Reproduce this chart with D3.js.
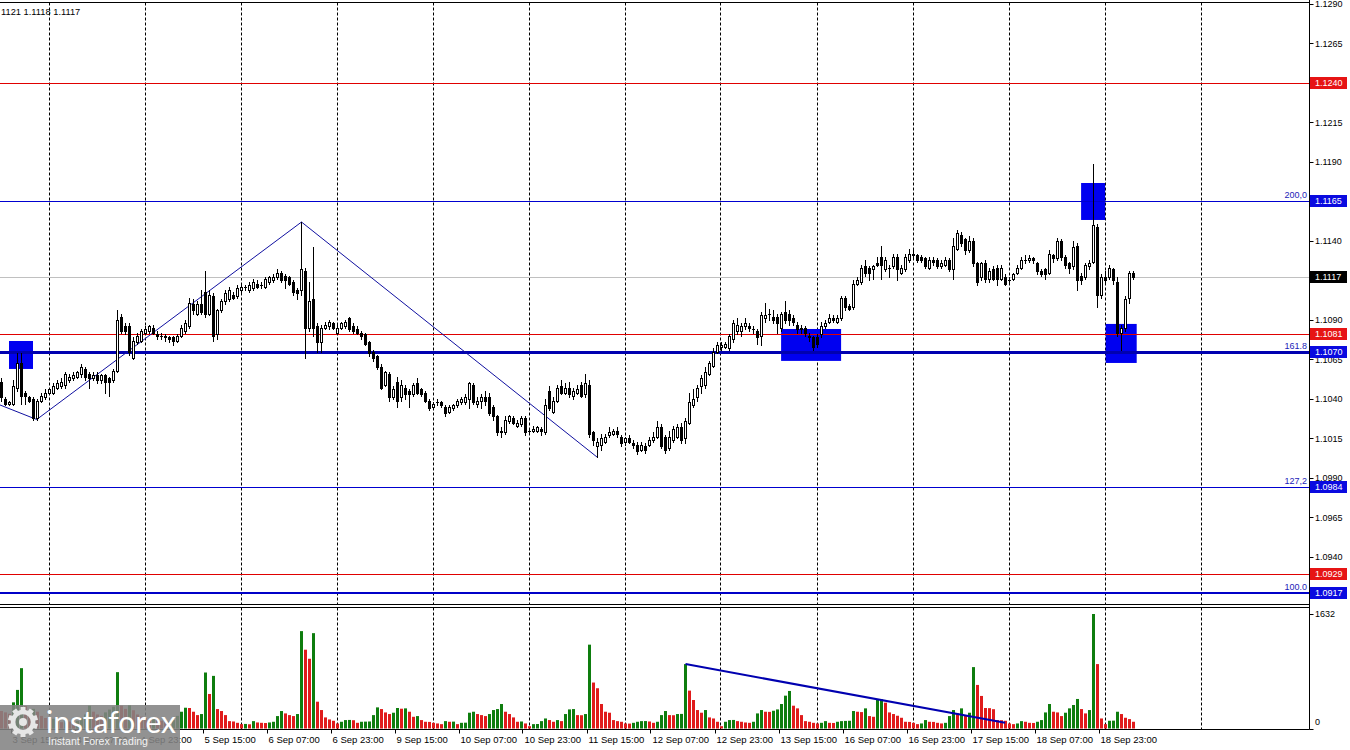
<!DOCTYPE html>
<html><head><meta charset="utf-8">
<script src="https://cdn.jsdelivr.net/npm/d3@7"></script>
<style>html,body{margin:0;padding:0;background:#fff;overflow:hidden}</style>
</head><body><svg id="c" width="1350" height="750"></svg>
<script>
// ---------- DATA ----------
const opens = [1.1051,1.1040,1.1037,1.1037,1.1047,1.1063,1.1044,1.1041,1.1040,1.1028,1.1039,1.1041,1.1044,1.1044,1.1047,1.1048,1.1049,1.1052,1.1053,1.1054,1.1056,1.1059,1.1056,1.1053,1.1055,1.1052,1.1055,1.1053,1.1052,1.1058,1.1092,1.1086,1.1086,1.1066,1.1076,1.1077,1.1082,1.1083,1.1085,1.1081,1.1080,1.1080,1.1079,1.1079,1.1077,1.1080,1.1083,1.1086,1.1100,1.1094,1.1100,1.1108,1.1094,1.1105,1.1081,1.1096,1.1102,1.1103,1.1106,1.1105,1.1109,1.1111,1.1109,1.1110,1.1113,1.1112,1.1111,1.1114,1.1115,1.1117,1.1120,1.1118,1.1117,1.1114,1.1109,1.1109,1.1121,1.1085,1.1103,1.1086,1.1076,1.1085,1.1086,1.1088,1.1082,1.1085,1.1086,1.1091,
1.1086,1.1084,1.1082,1.1081,1.1076,1.1070,1.1067,1.1060,1.1049,1.1056,1.1041,1.1051,1.1041,1.1047,1.1045,1.1043,1.1050,1.1046,1.1044,1.1039,1.1035,1.1038,1.1038,1.1035,1.1032,1.1034,1.1036,1.1038,1.1038,1.1040,1.1049,1.1037,1.1039,1.1041,1.1041,1.1035,1.1029,1.1019,1.1019,1.1026,1.1028,1.1023,1.1024,1.1028,1.1020,1.1020,1.1020,1.1021,1.1019,1.1045,1.1032,1.1039,1.1048,1.1044,1.1047,1.1042,1.1044,1.1049,1.1043,1.1049,1.1019,1.1010,1.1011,1.1013,1.1017,1.1018,1.1020,1.1016,1.1013,1.1015,
1.1012,1.1011,1.1008,1.1010,1.1011,1.1014,1.1016,1.1022,1.1016,1.1009,1.1014,1.1016,1.1022,1.1015,1.1025,1.1036,1.1041,1.1048,1.1049,1.1056,1.1061,1.1070,1.1073,1.1073,1.1072,1.1078,1.1083,1.1083,1.1086,1.1086,1.1084,1.1083,1.1080,1.1091,1.1094,1.1092,1.1092,1.1085,1.1095,1.1094,1.1091,1.1087,1.1085,1.1085,1.1080,1.1079,1.1079,1.1081,1.1086,1.1089,1.1091,1.1089,1.1091,1.1104,1.1099,1.1098,1.1113,1.1114,1.1124,1.1123,1.1122,1.1126,1.1130,1.1122,1.1123,1.1124,1.1130,1.1120,1.1122,1.1128,1.1132,1.1131,1.1130,1.1129,1.1123,1.1128,1.1128,1.1124,1.1125,1.1128,
1.1122,1.1135,1.1144,1.1141,1.1134,1.1140,1.1126,1.1117,1.1126,1.1116,1.1122,1.1123,1.1116,1.1117,1.1115,1.1116,1.1120,1.1123,1.1128,1.1128,1.1129,1.1126,1.1121,1.1122,1.1120,1.1131,1.1129,1.1140,1.1130,1.1126,1.1124,1.1137,1.1118,1.1117,1.1124,1.1127,1.1149,1.1106,1.1117,1.1117,1.1122,1.1114,1.1082,1.1085,1.1104,1.1120];
const highs = [1.1053,1.1041,1.1039,1.1052,1.1069,1.1069,1.1045,1.1042,1.1041,1.1040,1.1044,1.1046,1.1047,1.1050,1.1052,1.1053,1.1057,1.1056,1.1057,1.1058,1.1062,1.1060,1.1057,1.1057,1.1057,1.1056,1.1056,1.1054,1.1059,1.1096,1.1094,1.1088,1.1088,1.1079,1.1082,1.1084,1.1086,1.1087,1.1087,1.1083,1.1082,1.1081,1.1080,1.1080,1.1081,1.1087,1.1090,1.1104,1.1103,1.1102,1.1109,1.1121,1.1109,1.1107,1.1097,1.1103,1.1109,1.1111,1.1108,1.1112,1.1113,1.1112,1.1114,1.1116,1.1115,1.1114,1.1117,1.1118,1.1119,1.1122,1.1121,1.1119,1.1118,1.1115,1.1110,1.1152,1.1123,1.1114,1.1136,1.1088,1.1087,1.1089,1.1090,1.1089,1.1087,1.1089,1.1090,1.1092,
1.1088,1.1086,1.1083,1.1082,1.1077,1.1071,1.1068,1.1062,1.1058,1.1057,1.1048,1.1054,1.1052,1.1049,1.1046,1.1050,1.1053,1.1047,1.1045,1.1040,1.1038,1.1040,1.1039,1.1036,1.1036,1.1037,1.1040,1.1041,1.1043,1.1051,1.1050,1.1041,1.1043,1.1045,1.1044,1.1036,1.1030,1.1022,1.1029,1.1030,1.1029,1.1027,1.1029,1.1029,1.1021,1.1023,1.1023,1.1022,1.1040,1.1048,1.1041,1.1049,1.1052,1.1050,1.1051,1.1047,1.1049,1.1051,1.1056,1.1052,1.1020,1.1015,1.1018,1.1018,1.1022,1.1021,1.1022,1.1017,1.1016,1.1017,
1.1014,1.1013,1.1013,1.1012,1.1016,1.1019,1.1026,1.1024,1.1017,1.1020,1.1023,1.1024,1.1025,1.1028,1.1044,1.1046,1.1049,1.1055,1.1060,1.1064,1.1072,1.1076,1.1076,1.1076,1.1081,1.1090,1.1091,1.1088,1.1091,1.1088,1.1086,1.1084,1.1095,1.1101,1.1097,1.1096,1.1094,1.1095,1.1102,1.1096,1.1093,1.1089,1.1087,1.1086,1.1082,1.1080,1.1081,1.1089,1.1090,1.1094,1.1093,1.1093,1.1105,1.1105,1.1100,1.1115,1.1117,1.1125,1.1128,1.1124,1.1125,1.1130,1.1137,1.1130,1.1125,1.1132,1.1132,1.1125,1.1132,1.1135,1.1134,1.1132,1.1131,1.1130,1.1130,1.1130,1.1129,1.1128,1.1130,1.1129,
1.1142,1.1147,1.1146,1.1142,1.1143,1.1142,1.1127,1.1127,1.1128,1.1123,1.1124,1.1125,1.1125,1.1119,1.1117,1.1120,1.1125,1.1130,1.1131,1.1131,1.1130,1.1127,1.1122,1.1123,1.1134,1.1132,1.1142,1.1141,1.1131,1.1127,1.1140,1.1139,1.1120,1.1126,1.1128,1.1189,1.1151,1.1119,1.1121,1.1125,1.1123,1.1117,1.1087,1.1105,1.1121,1.1121];
const lows = [1.1039,1.1036,1.1036,1.1036,1.1045,1.1037,1.1037,1.1038,1.1027,1.1027,1.1038,1.1040,1.1043,1.1043,1.1046,1.1047,1.1047,1.1051,1.1052,1.1053,1.1054,1.1052,1.1047,1.1052,1.1050,1.1050,1.1044,1.1042,1.1051,1.1057,1.1082,1.1081,1.1068,1.1065,1.1075,1.1076,1.1081,1.1082,1.1081,1.1078,1.1078,1.1077,1.1076,1.1074,1.1076,1.1079,1.1082,1.1085,1.1094,1.1093,1.1094,1.1092,1.1093,1.1077,1.1078,1.1095,1.1100,1.1102,1.1103,1.1104,1.1108,1.1109,1.1108,1.1109,1.1110,1.1110,1.1110,1.1113,1.1114,1.1116,1.1114,1.1110,1.1112,1.1106,1.1103,1.1106,1.1066,1.1083,1.1080,1.1070,1.1070,1.1084,1.1084,1.1084,1.1081,1.1084,1.1085,1.1083,
1.1082,1.1081,1.1078,1.1074,1.1067,1.1064,1.1059,1.1046,1.1048,1.1039,1.1040,1.1035,1.1039,1.1040,1.1035,1.1042,1.1043,1.1042,1.1038,1.1033,1.1034,1.1036,1.1035,1.1029,1.1031,1.1033,1.1035,1.1037,1.1037,1.1034,1.1037,1.1035,1.1034,1.1036,1.1030,1.1027,1.1017,1.1016,1.1018,1.1025,1.1024,1.1022,1.1023,1.1017,1.1019,1.1019,1.1019,1.1017,1.1018,1.1033,1.1031,1.1038,1.1043,1.1043,1.1041,1.1040,1.1043,1.1041,1.1041,1.1016,1.1011,1.1003,1.1008,1.1012,1.1016,1.1017,1.1016,1.1010,1.1011,1.1012,
1.1009,1.1005,1.1007,1.1006,1.1010,1.1013,1.1015,1.1009,1.1006,1.1008,1.1013,1.1015,1.1012,1.1012,1.1024,1.1035,1.1039,1.1044,1.1047,1.1055,1.1060,1.1069,1.1071,1.1072,1.1071,1.1076,1.1081,1.1080,1.1084,1.1083,1.1082,1.1075,1.1074,1.1089,1.1090,1.1088,1.1082,1.1083,1.1088,1.1087,1.1087,1.1082,1.1082,1.1080,1.1077,1.1071,1.1073,1.1079,1.1085,1.1088,1.1089,1.1088,1.1090,1.1096,1.1096,1.1097,1.1112,1.1113,1.1118,1.1115,1.1116,1.1124,1.1116,1.1121,1.1117,1.1123,1.1115,1.1119,1.1121,1.1127,1.1130,1.1127,1.1127,1.1123,1.1122,1.1125,1.1123,1.1123,1.1124,1.1121,
1.1116,1.1134,1.1137,1.1132,1.1133,1.1124,1.1112,1.1115,1.1114,1.1114,1.1115,1.1112,1.1115,1.1112,1.1113,1.1115,1.1119,1.1122,1.1126,1.1127,1.1126,1.1119,1.1118,1.1116,1.1119,1.1127,1.1128,1.1128,1.1123,1.1120,1.1122,1.1109,1.1113,1.1116,1.1122,1.1126,1.1098,1.1104,1.1113,1.1116,1.1113,1.1080,1.1071,1.1083,1.1101,1.1116];
const closes = [1.1041,1.1037,1.1038,1.1048,1.1063,1.1042,1.1042,1.1039,1.1028,1.1039,1.1042,1.1044,1.1046,1.1048,1.1050,1.1051,1.1056,1.1054,1.1055,1.1057,1.1060,1.1054,1.1053,1.1055,1.1052,1.1055,1.1051,1.1051,1.1058,1.1090,1.1083,1.1083,1.1070,1.1077,1.1080,1.1083,1.1084,1.1086,1.1082,1.1080,1.1080,1.1079,1.1078,1.1077,1.1080,1.1085,1.1088,1.1101,1.1096,1.1100,1.1095,1.1094,1.1106,1.1080,1.1096,1.1102,1.1107,1.1109,1.1104,1.1110,1.1111,1.1111,1.1112,1.1114,1.1111,1.1112,1.1116,1.1117,1.1117,1.1120,1.1115,1.1115,1.1113,1.1108,1.1107,1.1122,1.1085,1.1102,1.1085,1.1076,1.1085,1.1087,1.1089,1.1085,1.1085,1.1088,1.1089,1.1084,
1.1083,1.1082,1.1080,1.1075,1.1069,1.1066,1.1060,1.1047,1.1057,1.1041,1.1046,1.1039,1.1049,1.1043,1.1043,1.1049,1.1044,1.1043,1.1039,1.1034,1.1037,1.1038,1.1036,1.1031,1.1035,1.1036,1.1039,1.1040,1.1041,1.1050,1.1038,1.1039,1.1041,1.1039,1.1031,1.1029,1.1019,1.1020,1.1027,1.1029,1.1025,1.1025,1.1028,1.1019,1.1020,1.1021,1.1022,1.1020,1.1036,1.1034,1.1039,1.1047,1.1044,1.1047,1.1043,1.1045,1.1046,1.1042,1.1050,1.1018,1.1014,1.1013,1.1015,1.1016,1.1019,1.1020,1.1018,1.1012,1.1015,1.1013,
1.1011,1.1007,1.1011,1.1008,1.1014,1.1016,1.1022,1.1010,1.1008,1.1016,1.1021,1.1022,1.1014,1.1026,1.1038,1.1040,1.1047,1.1053,1.1057,1.1063,1.1070,1.1074,1.1074,1.1075,1.1080,1.1088,1.1087,1.1086,1.1088,1.1085,1.1084,1.1079,1.1093,1.1093,1.1094,1.1090,1.1088,1.1094,1.1090,1.1090,1.1089,1.1084,1.1084,1.1082,1.1079,1.1073,1.1075,1.1086,1.1088,1.1091,1.1090,1.1091,1.1104,1.1098,1.1097,1.1113,1.1115,1.1123,1.1120,1.1120,1.1124,1.1125,1.1125,1.1128,1.1123,1.1130,1.1122,1.1123,1.1130,1.1132,1.1131,1.1128,1.1128,1.1124,1.1128,1.1127,1.1124,1.1126,1.1128,1.1122,
1.1137,1.1145,1.1139,1.1134,1.1140,1.1126,1.1114,1.1126,1.1116,1.1121,1.1116,1.1116,1.1123,1.1113,1.1115,1.1119,1.1123,1.1128,1.1128,1.1129,1.1128,1.1121,1.1119,1.1119,1.1132,1.1129,1.1140,1.1130,1.1125,1.1123,1.1136,1.1115,1.1115,1.1125,1.1126,1.1150,1.1106,1.1117,1.1115,1.1123,1.1115,1.1082,1.1085,1.1103,1.1120,1.1117];
const volumes = [250,230,210,373,550,860,320,250,280,240,180,150,120,140,110,90,120,100,80,110,150,200,325,240,200,180,230,270,311,803,325,280,330,260,200,170,150,130,160,140,110,90,100,120,180,
239,296,292,239,191,206,798,492,750,277,249,191,105,100,81,62,65,60,105,86,81,78,86,96,177,249,215,191,177,206,1388,1123,994,1359,382,263,158,129,110,72,96,120,122,118,81,96,98,100,191,301,277,229,206,225,292,282,287,239,167,177,120,96,94,81,72,62,105,96,98,62,81,83,225,239,206,191,177,206,263,277,349,239,206,158,96,100,72,33,62,64,105,143,120,96,120,105,206,272,277,191,189,206,1195,655,574,349,239,225,120,105,96,72,70,81,96,105,106,
100,
81,96,191,249,191,189,206,208,918,540,406,263,225,263,158,143,96,33,96,120,122,105,96,86,81,96,215,263,239,237,253,272,349,468,535,325,287,191,105,96,81,72,81,105,81,79,96,105,108,110,249,239,234,287,177,167,406,416,368,229,206,182,153,96,94,81,62,72,120,96,94,81,72,81,177,263,215,287,191,225,875,621,464,292,290,275,120,118,110,72,62,72,105,96,81,79,96,120,229,349,239,229,177,225,287,335,421,277,215,263,1632,918,143,62,110,112,239,206,153,134,96];

const xLabelBars = [2,18,34,50,66,82,98,114,130,146,162,178,194,210,226,242,258,274];
const xLabels = ["3 Sep 15:00","4 Sep 07:00","4 Sep 23:00","5 Sep 15:00","6 Sep 07:00","6 Sep 23:00","9 Sep 15:00","10 Sep 07:00","10 Sep 23:00","11 Sep 15:00","12 Sep 07:00","12 Sep 23:00","13 Sep 15:00","16 Sep 07:00","16 Sep 23:00","17 Sep 15:00","18 Sep 07:00","18 Sep 23:00"];
const gridBars = [12,36,60,84,108,132,156,180,204,228,252,276,300];
const yTicks = [1.1290,1.1265,1.1240,1.1215,1.1190,1.1165,1.1140,1.1115,1.1090,1.1065,1.1040,1.1015,1.0990,1.0965,1.0940,1.0915];
const volTicks = [1632, 0];

const levelPrices = [1.1240,1.1165,1.1117,1.1081,1.1070,1.0984,1.0929,1.0917];
const levelTypes  = ["res","fib","last","res","fibBold","fib","res","fibMid"];
const levelTexts  = ["","200,0","","","161.8","127,2","","100.0"];

const boxFrom = [1.875,194.9,269.9,276.05];
const boxTo   = [7.875,209.9,275.9,283.8];
const boxHigh = [1.10767,1.10843,1.11767,1.10875];
const boxLow  = [1.10590,1.10641,1.11533,1.10628];

const zigBars   = [-0.375,8.8,75,149];
const zigPrices = [1.10362,1.1027,1.1152,1.1003];
const volLineBars = [171,250.9];
const volLineVals = [918,83];

const headerText = "1121 1.1118 1.1117";

// ---------- STYLE ----------
const FONT = "'Liberation Sans', Arial, sans-serif";
const lineStyle = {
  res:{c:"#e00000",w:1}, fib:{c:"#0000d0",w:1}, last:{c:"#c0c0c0",w:1},
  fibBold:{c:"#0000b0",w:3}, fibMid:{c:"#0000c8",w:2}
};
const labelFill = {res:"#e61414", fib:"#0a0ae0", last:"#000000", fibBold:"#0a0ae0", fibMid:"#0a0ae0"};

// ---------- CHART ----------
const svg = d3.select("#c");
const n = closes.length;
const AXX = 1309.5, MAIN_TOP = 2.5, MAIN_BOT = 604.5, VOL_TOP = 607.5, VOL_BOT = 729.5;
const x = d3.scaleLinear().domain([0, 283]).range([1.5, 1133.5]);
const y = d3.scaleLinear().domain([1.0917, 1.1290]).range([593.3, 4]);
const yv = d3.scaleLinear().domain([0, 1632]).range([728.5, 614]);

svg.append("rect").attr("width",1350).attr("height",750).attr("fill","#fff");
const defs = svg.append("defs");
defs.append("clipPath").attr("id","cm").append("rect").attr("x",0).attr("y",MAIN_TOP).attr("width",AXX).attr("height",MAIN_BOT-MAIN_TOP);
defs.append("clipPath").attr("id","cv").append("rect").attr("x",0).attr("y",VOL_TOP).attr("width",AXX).attr("height",VOL_BOT-VOL_TOP);

const gm = svg.append("g").attr("clip-path","url(#cm)");
const gv = svg.append("g").attr("clip-path","url(#cv)");

// grid
[[gm,MAIN_TOP,MAIN_BOT],[gv,VOL_TOP,VOL_BOT]].forEach(([g,a,b])=>{
  g.selectAll("line.grid").data(gridBars).join("line").attr("class","grid")
   .attr("x1",d=>Math.round(x(d))-0.5).attr("x2",d=>Math.round(x(d))-0.5)
   .attr("y1",a).attr("y2",b).attr("stroke","#000").attr("stroke-width",1).attr("stroke-dasharray","3,2");
});

// boxes
gm.selectAll("rect.box").data(d3.range(boxFrom.length)).join("rect").attr("class","box")
  .attr("x",i=>x(boxFrom[i])).attr("width",i=>x(boxTo[i])-x(boxFrom[i]))
  .attr("y",i=>y(boxHigh[i])).attr("height",i=>y(boxLow[i])-y(boxHigh[i]))
  .attr("fill","#0000f0");

// level lines
const lvlY = i=>{const s=lineStyle[levelTypes[i]]; const yy=Math.round(y(levelPrices[i])); return s.w%2? yy+0.5: yy;};
gm.selectAll("line.lvl").data(d3.range(levelPrices.length)).join("line").attr("class","lvl")
  .attr("x1",0).attr("x2",AXX).attr("y1",lvlY).attr("y2",lvlY)
  .attr("stroke",i=>lineStyle[levelTypes[i]].c).attr("stroke-width",i=>lineStyle[levelTypes[i]].w);

// zigzag
gm.append("path").datum(d3.range(zigBars.length))
  .attr("d",d3.line().x(i=>x(zigBars[i])).y(i=>y(zigPrices[i])))
  .attr("fill","none").attr("stroke","#1010a0").attr("stroke-width",1);

// candles
const idx = d3.range(n);
gm.selectAll("line.wick").data(idx).join("line").attr("class","wick")
  .attr("x1",i=>x(i)).attr("x2",i=>x(i))
  .attr("y1",i=>Math.round(y(highs[i]))).attr("y2",i=>Math.round(y(lows[i]))+1)
  .attr("stroke","#000").attr("stroke-width",1);
gm.selectAll("rect.body").data(idx).join("rect").attr("class","body")
  .each(function(i){
    const o=opens[i], c=closes[i];
    const top=Math.round(y(Math.max(o,c))), bot=Math.round(y(Math.min(o,c)));
    const sel=d3.select(this);
    if (c>o) {
      sel.attr("x",x(i)-1).attr("y",top+0.5).attr("width",2).attr("height",Math.max(bot-top,1))
         .attr("fill","#fff").attr("stroke","#000").attr("stroke-width",1);
    } else {
      sel.attr("x",x(i)-1.5).attr("y",top).attr("width",3).attr("height",Math.max(bot-top,1)+(c===o?0:1))
         .attr("fill","#000");
    }
  });

// volume bars
gv.selectAll("rect.vol").data(idx).join("rect").attr("class","vol")
  .attr("x",i=>x(i)-1.5).attr("width",3)
  .attr("y",i=>yv(volumes[i])).attr("height",i=>yv(0)-yv(volumes[i]))
  .attr("fill",i=> (i>0 && volumes[i]>volumes[i-1]) ? "#0e7d0e" : "#e01b1b");
gv.append("path").datum(d3.range(volLineBars.length))
  .attr("d",d3.line().x(i=>x(volLineBars[i])).y(i=>yv(volLineVals[i])))
  .attr("fill","none").attr("stroke","#0000b0").attr("stroke-width",2);

// frames
const fr = svg.append("g").attr("stroke","#000").attr("stroke-width",1);
fr.append("line").attr("x1",0).attr("x2",AXX).attr("y1",MAIN_TOP).attr("y2",MAIN_TOP);
fr.append("line").attr("x1",0).attr("x2",AXX).attr("y1",MAIN_BOT).attr("y2",MAIN_BOT);
fr.append("line").attr("x1",0).attr("x2",AXX).attr("y1",VOL_TOP).attr("y2",VOL_TOP);
fr.append("line").attr("x1",0).attr("x2",AXX).attr("y1",VOL_BOT).attr("y2",VOL_BOT);
fr.append("line").attr("x1",AXX).attr("x2",AXX).attr("y1",0).attr("y2",VOL_BOT);

// y axis ticks + labels (labels fully hidden under a level box are not drawn)
const covered = d => levelPrices.some(p => Math.abs(y(p) - y(d)) < 3.3);
const ya = svg.append("g");
ya.selectAll("line").data(yTicks).join("line")
  .attr("x1",AXX).attr("x2",AXX+4).attr("y1",d=>Math.round(y(d))+0.5).attr("y2",d=>Math.round(y(d))+0.5)
  .attr("stroke","#000");
ya.selectAll("text").data(yTicks.filter(d=>!covered(d))).join("text")
  .attr("x",1315).attr("y",d=>y(d)).attr("dy","0.35em")
  .attr("font-family",FONT).attr("font-size","9px").attr("fill","#000")
  .text(d=>d3.format(".4f")(d));

// volume axis
const va = svg.append("g");
va.selectAll("line").data(volTicks).join("line")
  .attr("x1",AXX).attr("x2",AXX+4).attr("y1",d=>Math.round(yv(d))+0.5).attr("y2",d=>Math.round(yv(d))+0.5).attr("stroke","#000");
va.selectAll("text").data(volTicks).join("text")
  .attr("x",1315).attr("y",d=>d===0?722:614).attr("dy","0.35em")
  .attr("font-family",FONT).attr("font-size","9px").attr("fill","#000").text(d=>d);

// level price boxes + fib texts
const lv = svg.append("g");
const li = d3.range(levelPrices.length);
lv.selectAll("rect").data(li).join("rect")
  .attr("x",1310).attr("width",37).attr("y",i=>Math.round(y(levelPrices[i]))-6).attr("height",12)
  .attr("fill",i=>labelFill[levelTypes[i]]);
lv.selectAll("text.pl").data(li).join("text").attr("class","pl")
  .attr("x",1315).attr("y",i=>Math.round(y(levelPrices[i]))).attr("dy","0.35em")
  .attr("font-family",FONT).attr("font-size","9px").attr("fill","#fff")
  .text(i=>d3.format(".4f")(levelPrices[i]));
lv.selectAll("text.fl").data(li.filter(i=>levelTexts[i])).join("text").attr("class","fl")
  .attr("x",1307).attr("y",i=>Math.round(y(levelPrices[i]))-3).attr("text-anchor","end")
  .attr("font-family",FONT).attr("font-size","9px").attr("fill","#1c1cb8")
  .text(i=>levelTexts[i]);

// x labels
const xa = svg.append("g");
xa.selectAll("line").data(xLabelBars).join("line")
  .attr("x1",d=>Math.round(x(d))+1.5).attr("x2",d=>Math.round(x(d))+1.5).attr("y1",VOL_BOT).attr("y2",VOL_BOT+4).attr("stroke","#000");
xa.selectAll("text").data(d3.range(xLabels.length)).join("text")
  .attr("x",i=>x(xLabelBars[i])+3).attr("y",740).attr("dy","0.35em")
  .attr("font-family",FONT).attr("font-size","9.5px").attr("fill","#000")
  .text(i=>xLabels[i]);

// header
svg.append("text").attr("x",1).attr("y",12).attr("dy","0.35em")
  .attr("font-family",FONT).attr("font-size","9.3px").attr("fill","#000").text(headerText);

// watermark logo
const lg = svg.append("g");
lg.append("rect").attr("x",0).attr("y",705).attr("width",180).attr("height",45).attr("fill","#838383").attr("opacity",0.88);
const gear = lg.append("g").attr("transform","translate(23,722)").attr("fill","#e6e6e6");
d3.range(10).forEach(k=>{
  gear.append("rect").attr("x",-2.5).attr("y",-15).attr("width",5).attr("height",6)
    .attr("transform",`rotate(${k*36})`);
});
gear.append("circle").attr("r",10).attr("fill","none").attr("stroke","#e6e6e6").attr("stroke-width",4.5);
gear.append("circle").attr("r",4).attr("fill","#e6e6e6");
lg.append("text").attr("x",46).attr("y",733).attr("font-family","Lato, 'Open Sans', sans-serif")
  .attr("font-size","30px").attr("fill","#fff").attr("textLength",130).attr("lengthAdjust","spacingAndGlyphs")
  .text("instaforex");
lg.append("text").attr("x",48).attr("y",745).attr("font-family",FONT)
  .attr("font-size","10.5px").attr("fill","#f2f2f2").attr("textLength",100).attr("lengthAdjust","spacingAndGlyphs")
  .text("Instant Forex Trading");
</script>
</body></html>
